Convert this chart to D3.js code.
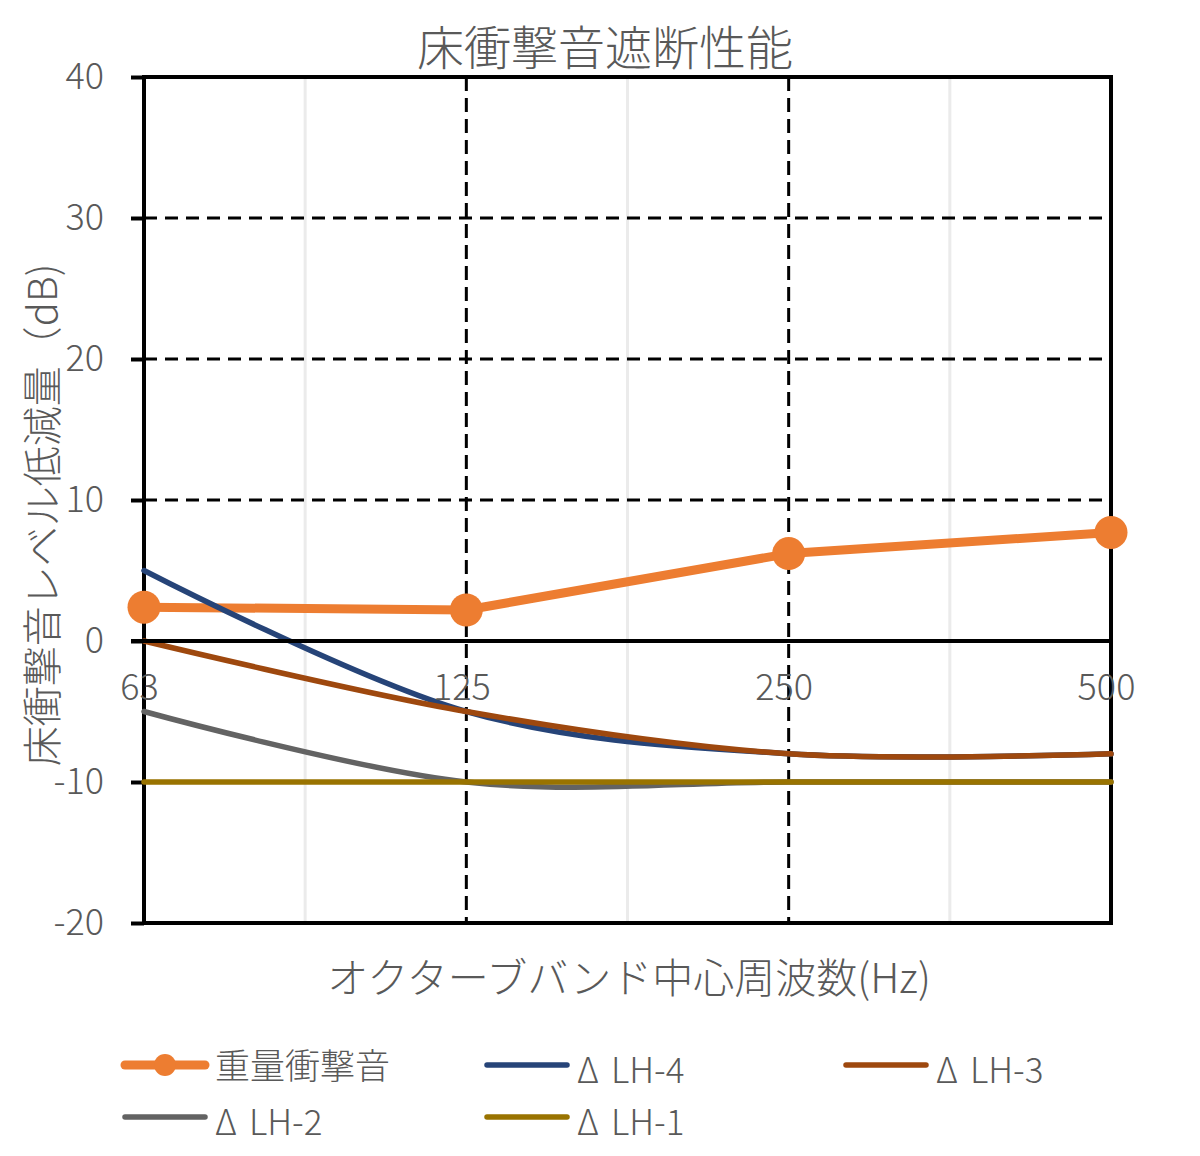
<!DOCTYPE html>
<html>
<head>
<meta charset="utf-8">
<script src="https://cdn.jsdelivr.net/npm/d3@7"></script>
<style>
  html, body { margin: 0; padding: 0; background: #fff; }
  svg { display: block; }
  text { font-family: "Noto Sans CJK JP", "Noto Sans", sans-serif; fill: #595959; font-weight: 300; }
</style>
</head>
<body>
<svg id="chart" width="1200" height="1156"></svg>
<script>
// ---- data ----
const categories = ["63", "125", "250", "500"];
const seriesNames = ["重量衝撃音", "ΔLH-4", "ΔLH-3", "ΔLH-2", "ΔLH-1"];
const impactSound = [2.4, 2.2, 6.2, 7.7];
const deltaLH4 = [5, -5, -8, -8];
const deltaLH3 = [0, -5, -8, -8];
const deltaLH2 = [-5, -10, -10, -10];
const deltaLH1 = [-10, -10, -10, -10];
const yTickValues = [-20, -10, 0, 10, 20, 30, 40];
const titleText = "床衝撃音遮断性能";
const xTitleText = "オクターブバンド中心周波数(Hz)";
const yTitleText = "床衝撃音レベル低減量（dB)";

const seriesColors = ["#ED7D31", "#264478", "#9E480E", "#636363", "#997300"];
const seriesValues = [impactSound, deltaLH4, deltaLH3, deltaLH2, deltaLH1];
const smoothed = [false, true, true, true, true];

// ---- layout ----
const pLeft = 144, pRight = 1111, pTop = 77, pBottom = 923;
const svg = d3.select("#chart");

const x = d3.scalePoint().domain(categories).range([pLeft, pRight]);
const y = d3.scaleLinear().domain([-20, 40]).range([pBottom, pTop]);

// minor vertical gridlines (between categories)
const mids = d3.pairs(categories).map(([a, b]) => (x(a) + x(b)) / 2);
svg.append("g").selectAll("line").data(mids).join("line")
  .attr("x1", d => d).attr("x2", d => d)
  .attr("y1", pTop).attr("y2", pBottom)
  .attr("stroke", "#ebebeb").attr("stroke-width", 3);

// major dashed horizontal gridlines
svg.append("g").selectAll("line").data(yTickValues.filter(v => v !== 0 && v !== -20 && v !== 40)).join("line")
  .attr("x1", pLeft).attr("x2", pRight)
  .attr("y1", d => y(d)).attr("y2", d => y(d))
  .attr("stroke", "#000").attr("stroke-width", 3).attr("stroke-dasharray", "13,8");

// major dashed vertical gridlines
svg.append("g").selectAll("line").data(categories.slice(1, -1)).join("line")
  .attr("x1", d => x(d)).attr("x2", d => x(d))
  .attr("y1", pTop).attr("y2", pBottom)
  .attr("stroke", "#000").attr("stroke-width", 3).attr("stroke-dasharray", "14,7");

// y axis
const yAxis = svg.append("g").attr("transform", `translate(${pLeft},0)`)
  .call(d3.axisLeft(y).tickValues(yTickValues).tickSize(13).tickPadding(27).tickFormat(d => String(d)));
yAxis.select(".domain").remove();
yAxis.selectAll(".tick line").attr("stroke", "#000").attr("stroke-width", 4);
yAxis.selectAll(".tick text").attr("font-size", 36).attr("fill", "#595959")
  .attr("font-family", "'Noto Sans CJK JP', sans-serif").attr("dy", "0.32em");

// plot frame
svg.append("rect").attr("x", pLeft).attr("y", pTop)
  .attr("width", pRight - pLeft).attr("height", pBottom - pTop)
  .attr("fill", "none").attr("stroke", "#000").attr("stroke-width", 4);

// series
const lineGen = (smooth) => d3.line()
  .x((d, i) => x(categories[i])).y(d => y(d))
  .curve(smooth ? d3.curveCardinal.tension(0) : d3.curveLinear);

const sg = svg.append("g");
seriesValues.forEach((vals, k) => {
  sg.append("path").datum(vals)
    .attr("d", lineGen(smoothed[k]))
    .attr("fill", "none")
    .attr("stroke", seriesColors[k])
    .attr("stroke-width", k === 0 ? 9 : 5.5)
    .attr("stroke-linejoin", "round").attr("stroke-linecap", "round");
  if (k === 0) {
    sg.append("g").selectAll("circle").data(vals).join("circle")
      .attr("cx", (d, i) => x(categories[i])).attr("cy", d => y(d))
      .attr("r", 16.5).attr("fill", seriesColors[k]);
  }
});

// x axis line at 0
svg.append("line").attr("x1", pLeft - 13).attr("x2", pRight)
  .attr("y1", y(0)).attr("y2", y(0))
  .attr("stroke", "#000").attr("stroke-width", 4);

// x axis labels
const xAxis = svg.append("g").attr("transform", `translate(0,${y(0)})`)
  .call(d3.axisBottom(x).tickSize(0).tickPadding(0));
xAxis.select(".domain").remove();
xAxis.selectAll(".tick text").attr("font-size", 36).attr("fill", "#595959")
  .attr("font-family", "'Noto Sans CJK JP', sans-serif")
  .attr("y", 46).attr("dy", "0.35em").attr("dx", -5);

// titles
svg.append("text").attr("x", 605).attr("y", 44)
  .attr("text-anchor", "middle").attr("dominant-baseline", "central")
  .attr("font-size", 47).text(titleText);

svg.append("text").attr("x", 629).attr("y", 975)
  .attr("text-anchor", "middle").attr("dominant-baseline", "central")
  .attr("font-size", 41).text(xTitleText);

svg.append("text").attr("transform", "translate(40,515) rotate(-90)")
  .attr("text-anchor", "middle").attr("dominant-baseline", "central")
  .attr("font-size", 40).text(yTitleText);

// legend
const legendPos = [[125, 1065], [487, 1065], [846, 1065], [125, 1117], [487, 1117]];
const lg = svg.append("g");
seriesNames.forEach((name, k) => {
  const [lx, ly] = legendPos[k];
  lg.append("line").attr("x1", lx).attr("x2", lx + 80)
    .attr("y1", ly).attr("y2", ly)
    .attr("stroke", seriesColors[k]).attr("stroke-width", k === 0 ? 9 : 5.5)
    .attr("stroke-linecap", "round");
  if (k === 0) {
    lg.append("circle").attr("cx", lx + 40).attr("cy", ly).attr("r", 11).attr("fill", seriesColors[k]);
  }
  const t = lg.append("text").attr("x", lx + 90).attr("y", ly + 2)
    .attr("dominant-baseline", "central").attr("font-size", 35);
  if (name.startsWith("Δ")) {
    t.append("tspan").text(name.slice(0, 1));
    t.append("tspan").attr("dx", 12).text(name.slice(1));
  } else {
    t.attr("y", ly - 2).text(name);
  }
});
</script>
</body>
</html>
